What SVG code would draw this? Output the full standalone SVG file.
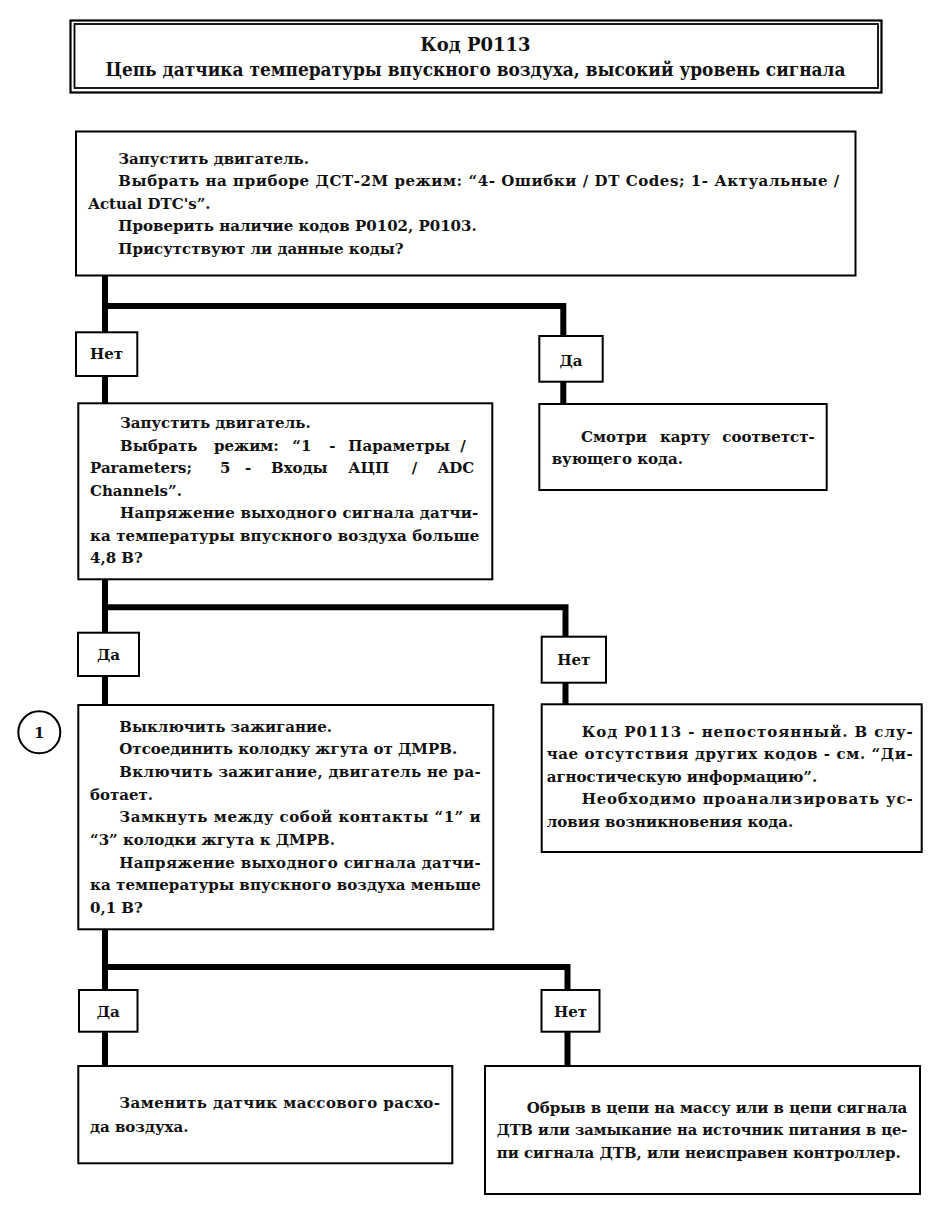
<svg xmlns="http://www.w3.org/2000/svg" width="947" height="1210" viewBox="0 0 947 1210">
<style>
text{font-family:"DejaVu Serif","Liberation Serif",serif;font-weight:bold;font-size:15px;fill:#111}
.title{font-size:18px}
.box{fill:#fff;stroke:#000;stroke-width:2}
.lbl{fill:#fff;stroke:#000;stroke-width:2}
.conn{fill:none;stroke:#000;stroke-width:6}
.c{text-anchor:middle}
</style>
<rect width="947" height="1210" fill="#fff"/>

<g id="title">
<rect x="70.5" y="20.5" width="811" height="72" fill="#fff" stroke="#000" stroke-width="2.2"/>
<rect x="74.5" y="24" width="803.5" height="64" fill="none" stroke="#000" stroke-width="1.8"/>
<text class="title c" x="475.5" y="50.5">Код P0113</text>
<text class="title c" x="475.5" y="75.5" textLength="740" lengthAdjust="spacingAndGlyphs">Цепь датчика температуры впускного воздуха, высокий уровень сигнала</text>
</g>

<g id="connectors">
<path class="conn" d="M105,275 V404"/>
<path class="conn" d="M105,306 H563.3 V405"/>
<path class="conn" d="M105,579 V706"/>
<path class="conn" d="M105,607.3 H565.5 V705"/>
<path class="conn" d="M105,929 V1067"/>
<path class="conn" d="M105,967 H567.5 V1067"/>
</g>

<g id="box1">
<rect class="box" x="76" y="131.5" width="779.5" height="144"/>
<text x="118.3" y="163.5">Запустить двигатель.</text>
<text x="118.3" y="186" textLength="721" lengthAdjust="spacing">Выбрать на приборе ДСТ-2М режим: “4- Ошибки / DT Codes; 1- Актуальные /</text>
<text x="88.3" y="208.5">Actual DTC's”.</text>
<text x="118.3" y="231">Проверить наличие кодов P0102, P0103.</text>
<text x="118.3" y="253.5">Присутствуют ли данные коды?</text>
</g>

<g id="label-no-1">
<rect class="lbl" x="76" y="332.3" width="61.3" height="43.7"/>
<text class="c" x="106.6" y="359">Нет</text>
</g>

<g id="label-yes-1">
<rect class="lbl" x="539.3" y="336" width="63.4" height="45.7"/>
<text class="c" x="571" y="366">Да</text>
</g>

<g id="box2">
<rect class="box" x="78.3" y="403.3" width="414" height="176"/>
<text x="120" y="428.3">Запустить двигатель.</text>
<text y="450.7"><tspan x="120">Выбрать</tspan><tspan x="214">режим:</tspan><tspan x="292.3">“1</tspan><tspan x="329.3">-</tspan><tspan x="348.3">Параметры</tspan><tspan x="460.3">/</tspan></text>
<text y="473.3"><tspan x="90">Parameters;</tspan><tspan x="220">5</tspan><tspan x="245">-</tspan><tspan x="271">Входы</tspan><tspan x="348.3">АЦП</tspan><tspan x="411.7">/</tspan><tspan x="437.7">ADC</tspan></text>
<text x="90" y="495.5">Channels”.</text>
<text x="120" y="518" textLength="358.3" lengthAdjust="spacing">Напряжение выходного сигнала датчи-</text>
<text x="90" y="540.5" textLength="389.3" lengthAdjust="spacing">ка температуры впускного воздуха больше</text>
<text x="90" y="563">4,8 В?</text>
</g>

<g id="box-see-map">
<rect class="box" x="539.3" y="404" width="287.4" height="86"/>
<text y="441.7"><tspan x="581">Смотри</tspan><tspan x="660">карту</tspan><tspan x="722.3">соответст-</tspan></text>
<text x="551.7" y="463.5">вующего кода.</text>
</g>

<g id="label-yes-2">
<rect class="lbl" x="78" y="632.7" width="61" height="43.3"/>
<text class="c" x="108.5" y="660">Да</text>
</g>

<g id="label-no-2">
<rect class="lbl" x="541.7" y="636.7" width="64.3" height="46"/>
<text class="c" x="573.8" y="665">Нет</text>
</g>

<g id="step-marker">
<circle cx="39.3" cy="732.3" r="21" fill="#fff" stroke="#000" stroke-width="2"/>
<text class="c" x="39.3" y="737.5">1</text>
</g>

<g id="box3">
<rect class="box" x="78.3" y="705" width="415" height="224.3"/>
<text x="119.3" y="731.7">Выключить зажигание.</text>
<text x="119.3" y="754.3">Отсоединить колодку жгута от ДМРВ.</text>
<text x="119.3" y="777" textLength="361.4" lengthAdjust="spacing">Включить зажигание, двигатель не ра-</text>
<text x="90" y="799.5">ботает.</text>
<text x="119.3" y="822.3" textLength="361.4" lengthAdjust="spacing">Замкнуть между собой контакты “1” и</text>
<text x="90" y="845">“3” колодки жгута к ДМРВ.</text>
<text x="119.3" y="867.7" textLength="361.4" lengthAdjust="spacing">Напряжение выходного сигнала датчи-</text>
<text x="90" y="890.3" textLength="390.7" lengthAdjust="spacing">ка температуры впускного воздуха меньше</text>
<text x="90" y="912.7">0,1 В?</text>
</g>

<g id="box4">
<rect class="box" x="541.7" y="704.3" width="380" height="147.7"/>
<text x="581.7" y="736.7" textLength="331" lengthAdjust="spacing">Код P0113 - непостоянный. В слу-</text>
<text x="546.7" y="759" textLength="366" lengthAdjust="spacing">чае отсутствия других кодов - см. “Ди-</text>
<text x="546.7" y="781.5">агностическую информацию”.</text>
<text x="581.7" y="804" textLength="331" lengthAdjust="spacing">Необходимо проанализировать ус-</text>
<text x="546.7" y="826.5">ловия возникновения кода.</text>
</g>

<g id="label-yes-3">
<rect class="lbl" x="79" y="990" width="58.5" height="41.7"/>
<text class="c" x="108.3" y="1017">Да</text>
</g>

<g id="label-no-3">
<rect class="lbl" x="541.5" y="990" width="58" height="41.7"/>
<text class="c" x="570.5" y="1017">Нет</text>
</g>

<g id="box5">
<rect class="box" x="78.3" y="1066" width="374" height="97.3"/>
<text x="119.3" y="1108.3" textLength="320.7" lengthAdjust="spacing">Заменить датчик массового расхо-</text>
<text x="90" y="1131.7">да воздуха.</text>
</g>

<g id="box6">
<rect class="box" x="485" y="1066" width="435" height="128"/>
<text x="526.7" y="1112.7" textLength="380.6" lengthAdjust="spacing">Обрыв в цепи на массу или в цепи сигнала</text>
<text x="496.7" y="1135.3" textLength="410.6" lengthAdjust="spacingAndGlyphs">ДТВ или замыкание на источник питания в це-</text>
<text x="496.7" y="1158.3" textLength="404" lengthAdjust="spacingAndGlyphs">пи сигнала ДТВ, или неисправен контроллер.</text>
</g>
</svg>
